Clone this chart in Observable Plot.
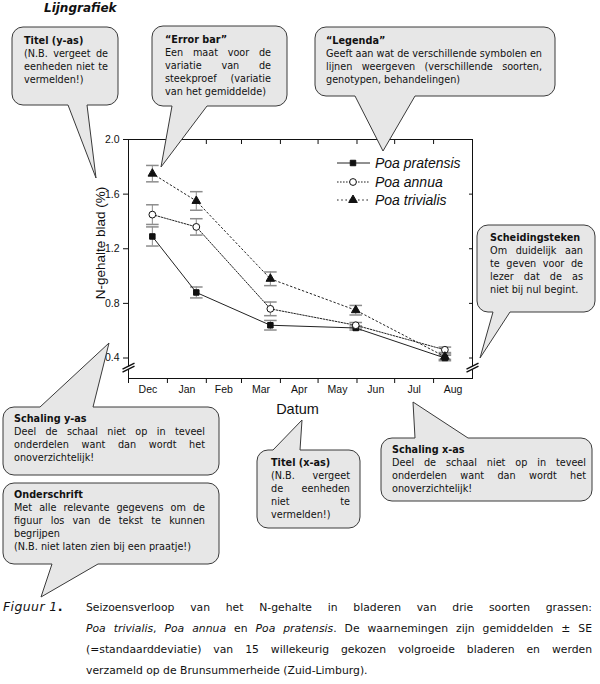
<!DOCTYPE html>
<html><head><meta charset="utf-8">
<script src="https://cdn.jsdelivr.net/npm/d3@7"></script>
<script src="https://cdn.jsdelivr.net/npm/@observablehq/plot@0.6"></script>
<style>
html,body{margin:0;padding:0;background:#fff;}
#root{position:relative;width:600px;height:684px;overflow:hidden;background:#fff;}
#root > svg{position:absolute;left:0;top:0;}
.t{position:absolute;font-family:"DejaVu Sans",Verdana,sans-serif;font-size:9.7px;line-height:13px;color:#111;}
.l{white-space:nowrap;}
.b{font-weight:bold;}
.cap{position:absolute;font-family:"DejaVu Sans",Verdana,sans-serif;font-size:10.8px;line-height:21px;color:#111;}
.figlab{position:absolute;font-family:"DejaVu Sans",Verdana,sans-serif;font-size:12.5px;line-height:21px;color:#111;letter-spacing:0.4px;}
.ttl{position:absolute;left:44px;top:1px;font-family:"DejaVu Sans",Verdana,sans-serif;font-size:12px;font-weight:bold;font-style:italic;color:#111;}
</style>
</head><body><div id="root"></div>
<script>
// ---------- data ----------
const months = ["Dec","Jan","Feb","Mar","Apr","May","Jun","Jul","Aug"];
const sampleDates = ["2000-12-20","2001-01-24","2001-03-24","2001-05-31","2001-08-10"];
const seriesNames = ["Poa pratensis","Poa annua","Poa trivialis"];
const pratensis   = [1.29, 0.88, 0.64, 0.62, 0.40];
const pratensisSE = [0.07, 0.04, 0.035, 0.015, 0.02];
const annua       = [1.45, 1.36, 0.76, 0.64, 0.46];
const annuaSE     = [0.072, 0.06, 0.05, 0.02, 0.02];
const trivialis   = [1.75, 1.55, 0.98, 0.75, 0.41];
const trivialisSE = [0.06, 0.068, 0.05, 0.035, 0.02];
const yTicks = [0.4, 0.8, 1.2, 1.6, 2.0];
const yDomain = [0.25, 2.0];
const axisBreakY = 0.33;
const yLabel = "N-gehalte blad (%)";
const xLabel = "Datum";

// ---------- derived ----------
const start = new Date(Date.UTC(2000, 11, 1));
const monthStarts = months.map((m, i) => d3.utcMonth.offset(start, i));
const end = d3.utcMonth.offset(start, months.length);
const monthMids = monthStarts.map(d => new Date((+d + +d3.utcMonth.offset(d, 1)) / 2));
const labelOf = new Map(monthMids.map((d, i) => [+d, months[i]]));
const dates = sampleDates.map(s => new Date(s + "T00:00:00Z"));
const values = [pratensis, annua, trivialis];
const errors = [pratensisSE, annuaSE, trivialisSE];
const rows = seriesNames.flatMap((name, k) => dates.map((date, i) => ({name, date, y: values[k][i], se: errors[k][i]})));
const styles = {
  "Poa pratensis": {symbol: "square", r: 3.1, fill: "#111", dash: null},
  "Poa annua": {symbol: "circle", r: 3.4, fill: "white", dash: "1.6,1.4"},
  "Poa trivialis": {symbol: "triangle", r: 3.2, fill: "#111", dash: "1.6,2.6"}
};
const breaks = [{x: start, y: axisBreakY}, {x: end, y: axisBreakY}];

const capSym = {draw(c) { c.moveTo(-6.3, 0); c.lineTo(6.3, 0); }};
const brkFill = {draw(c) { c.moveTo(-6, 1.6); c.lineTo(6, -4.4); c.lineTo(6, -1.4); c.lineTo(-6, 4.6); c.closePath(); }};
const brkLines = {draw(c) { c.moveTo(-6, 1.6); c.lineTo(6, -4.4); c.moveTo(-6, 4.6); c.lineTo(6, -1.4); }};

const chart = Plot.plot({
  width: 600, height: 420,
  marginTop: 139, marginRight: 128, marginBottom: 42, marginLeft: 128,
  x: {type: "utc", domain: [start, end]},
  y: {domain: yDomain},
  style: {fontFamily: "'Liberation Sans', Arial, sans-serif", fontSize: "10.5px", color: "#111", background: "transparent"},
  marks: [
    Plot.frame({stroke: "#111"}),
    Plot.axisY({ticks: yTicks, tickSize: 5, tickPadding: 4, tickFormat: d => d.toFixed(1), label: null}),
    Plot.axisY({anchor: "right", ticks: yTicks, tickSize: -4, tickFormat: () => "", label: null}),
    Plot.axisX({ticks: monthStarts, tickSize: 5, tickFormat: () => "", label: null}),
    Plot.axisX({anchor: "top", ticks: monthStarts, tickSize: -4, tickFormat: () => "", label: null}),
    Plot.axisX({ticks: monthMids, tickSize: 0, tickPadding: 7, tickFormat: d => labelOf.get(+d), label: null}),
    Plot.dot(breaks, {x: "x", y: "y", symbol: brkFill, fill: "white", stroke: "none", r: 5}),
    Plot.dot(breaks, {x: "x", y: "y", symbol: brkLines, fill: "none", stroke: "#111", r: 5}),
    Plot.text([yLabel], {text: d => d, frameAnchor: "left", textAnchor: "middle", lineAnchor: "middle", rotate: -90, dx: -28, dy: -16, fontSize: 13.5}),
    Plot.text([xLabel], {text: d => d, frameAnchor: "bottom", textAnchor: "middle", lineAnchor: "middle", dx: -3, dy: 31, fontSize: 14.5}),
    Plot.ruleX(rows, {x: "date", y1: d => d.y - d.se, y2: d => d.y + d.se, stroke: "#8c8c8c"}),
    Plot.dot(rows, {x: "date", y: d => d.y + d.se, symbol: capSym, stroke: "#8c8c8c", fill: "none"}),
    Plot.dot(rows, {x: "date", y: d => d.y - d.se, symbol: capSym, stroke: "#8c8c8c", fill: "none"}),
    ...seriesNames.map(name => Plot.line(rows.filter(d => d.name === name),
      {x: "date", y: "y", stroke: "#222", strokeWidth: 1, strokeDasharray: styles[name].dash})),
    ...seriesNames.map(name => Plot.dot(rows.filter(d => d.name === name),
      {x: "date", y: "y", symbol: styles[name].symbol, r: styles[name].r, fill: styles[name].fill, stroke: "#111", strokeWidth: 1}))
  ]
});
const root = document.getElementById("root");
root.appendChild(chart);

// ---------- overlay: legend + callouts ----------
const NS = "http://www.w3.org/2000/svg";
const ov = document.createElementNS(NS, "svg");
ov.setAttribute("width", 600); ov.setAttribute("height", 684);
root.appendChild(ov);
const sv = d3.select(ov);

// legend
const symType = {square: d3.symbolSquare, circle: d3.symbolCircle, triangle: d3.symbolTriangle};
const legRowY = [163, 182, 200];
seriesNames.forEach((name, i) => {
  const s = styles[name], y = legRowY[i];
  sv.append("line").attr("x1", 337).attr("x2", 370).attr("y1", y).attr("y2", y)
    .attr("stroke", "#222").attr("stroke-dasharray", s.dash);
  sv.append("path").attr("transform", `translate(353,${y})`)
    .attr("d", d3.symbol().type(symType[s.symbol]).size(s.r * s.r * Math.PI)())
    .attr("fill", s.fill).attr("stroke", "#111");
  sv.append("text").attr("x", 375).attr("y", y).attr("dy", "0.36em")
    .attr("font-family", "'Liberation Sans', Arial, sans-serif").attr("font-style", "italic")
    .attr("font-size", 14).attr("fill", "#111").text(name);
});

const bubbles = [
  {box: [12, 27, 118, 105], side: "bottom", base: [68, 87], tip: [96, 178], tx: 24, tw: 84, ty: 34,
   lines: [["Titel (y-as)", "b"], ["(N.B. vergeet de", "j"], ["eenheden niet te", "j"], ["vermelden!)", ""]]},
  {box: [152, 26, 287, 106], side: "bottom", base: [172, 207], tip: [161, 167], tx: 165, tw: 106, ty: 33,
   lines: [["“Error bar”", "b"], ["Een maat voor de", "j"], ["variatie van de", "j"], ["steekproef (variatie", "j"], ["van het gemiddelde)", ""]]},
  {box: [315, 27, 555, 96], side: "bottom", base: [355, 415], tip: [383, 151], tx: 326, tw: 216, ty: 34,
   lines: [["“Legenda”", "b"], ["Geeft aan wat de verschillende symbolen en", "j"], ["lijnen weergeven (verschillende soorten,", "j"], ["genotypen, behandelingen)", ""]]},
  {box: [477, 225, 595, 312], side: "bottom", base: [493, 510], tip: [480, 358], tx: 490, tw: 93, ty: 231,
   lines: [["Scheidingsteken", "b"], ["Om duidelijk aan", "j"], ["te geven voor de", "j"], ["lezer dat de as", "j"], ["niet bij nul begint.", ""]]},
  {box: [3, 407, 219, 475], side: "top", base: [40, 93], tip: [109, 343], tx: 14, tw: 191, ty: 412,
   lines: [["Schaling y-as", "b"], ["Deel de schaal niet op in teveel", "j"], ["onderdelen want dan wordt het", "j"], ["onoverzichtelijk!", ""]]},
  {box: [257, 450, 360, 528], side: "top", base: [273, 300], tip: [302, 420], tx: 271, tw: 79, ty: 456,
   lines: [["Titel (x-as)", "b"], ["(N.B. vergeet", "j"], ["de eenheden", "j"], ["niet te", "j"], ["vermelden!)", ""]]},
  {box: [381, 438, 592, 501], side: "top", base: [415, 468], tip: [413, 402], tx: 392, tw: 194, ty: 443,
   lines: [["Schaling x-as", "b"], ["Deel de schaal niet op in teveel", "j"], ["onderdelen want dan wordt het", "j"], ["onoverzichtelijk!", ""]]},
  {box: [3, 483, 219, 564], side: "bottom", base: [52, 98], tip: [41, 597], tx: 14, tw: 191, ty: 488,
   lines: [["Onderschrift", "b"], ["Met alle relevante gegevens om de", "j"], ["figuur los van de tekst te kunnen", "j"], ["begrijpen", ""], ["(N.B. niet laten zien bij een praatje!)", ""]]}
];

function bubblePath(b) {
  const [x0, y0, x1, y1] = b.box, r = 11, [a, c] = b.base, [tx, ty] = b.tip;
  const arc = (x, y) => `A${r},${r} 0 0 1 ${x},${y}`;
  if (b.side === "bottom") {
    return `M${x0 + r},${y0}H${x1 - r}${arc(x1, y0 + r)}V${y1 - r}${arc(x1 - r, y1)}H${c}L${tx},${ty}L${a},${y1}H${x0 + r}${arc(x0, y1 - r)}V${y0 + r}${arc(x0 + r, y0)}Z`;
  }
  return `M${x0 + r},${y0}H${a}L${tx},${ty}L${c},${y0}H${x1 - r}${arc(x1, y0 + r)}V${y1 - r}${arc(x1 - r, y1)}H${x0 + r}${arc(x0, y1 - r)}V${y0 + r}${arc(x0 + r, y0)}Z`;
}

bubbles.forEach(b => {
  sv.append("path").attr("d", bubblePath(b)).attr("fill", "#e7e7e7").attr("stroke", "#3a3a3a").attr("stroke-width", 1);
});

function justify(span, target) {
  const w = span.getBoundingClientRect().width;
  const n = (span.textContent.match(/ /g) || []).length;
  if (n > 0) span.style.wordSpacing = ((target - w) / n) + "px";
}

bubbles.forEach(b => {
  const div = document.createElement("div");
  div.className = "t";
  div.style.left = b.tx + "px"; div.style.top = b.ty + "px"; div.style.width = b.tw + "px";
  root.appendChild(div);
  b.lines.forEach(([txt, kind]) => {
    const l = document.createElement("div"); l.className = "l";
    const s = document.createElement("span"); s.textContent = txt;
    if (kind === "b") s.className = "b";
    l.appendChild(s); div.appendChild(l);
    if (kind === "j") justify(s, b.tw);
  });
});

// title
const ttl = document.createElement("div"); ttl.className = "ttl"; ttl.textContent = "Lijngrafiek";
root.appendChild(ttl);

// caption
const capLabel = document.createElement("div"); capLabel.className = "figlab";
capLabel.style.left = "3px"; capLabel.style.top = "596px";
capLabel.innerHTML = "<i>Figuur 1</i><b>.</b>";
root.appendChild(capLabel);
const captionLines = [
  ["Seizoensverloop van het N-gehalte in bladeren van drie soorten grassen:", true],
  ["<i>Poa trivialis</i>, <i>Poa annua</i> en <i>Poa pratensis</i>. De waarnemingen zijn gemiddelden ± SE", true],
  ["(=standaarddeviatie) van 15 willekeurig gekozen volgroeide bladeren en werden", true],
  ["verzameld op de Brunsummerheide (Zuid-Limburg).", false]
];
const cap = document.createElement("div"); cap.className = "cap";
cap.style.left = "86px"; cap.style.top = "597px"; cap.style.width = "506px";
root.appendChild(cap);
captionLines.forEach(([html, j]) => {
  const l = document.createElement("div"); l.className = "l";
  const s = document.createElement("span"); s.innerHTML = html;
  l.appendChild(s); cap.appendChild(l);
  if (j) justify(s, 506);
});
</script>
</body></html>
